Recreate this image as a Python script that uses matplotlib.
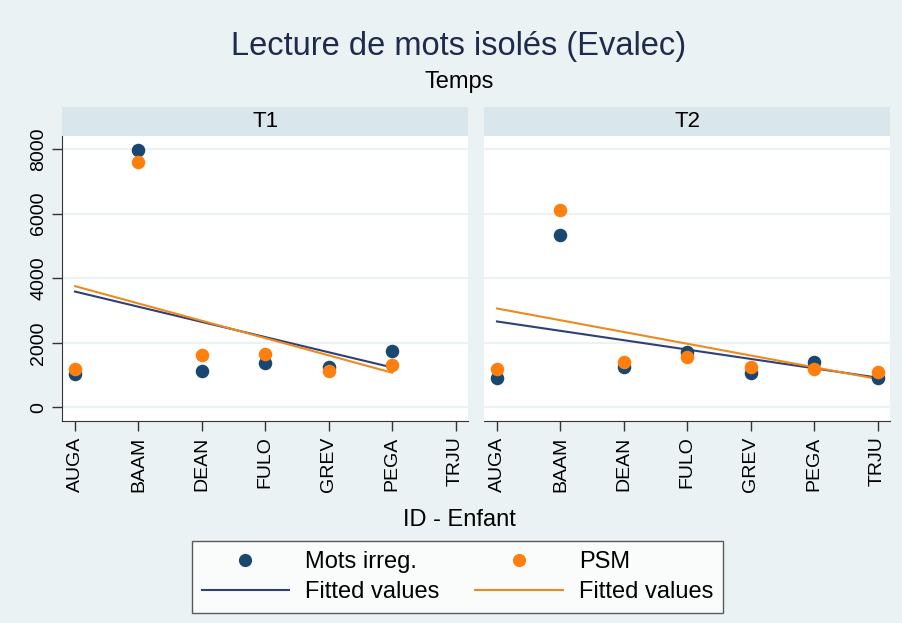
import numpy as np
import matplotlib
matplotlib.use("Agg")
import matplotlib.pyplot as plt
from matplotlib.lines import Line2D

plt.rcParams['font.family'] = ['Liberation Sans', 'DejaVu Sans']

# ---- data ----
ids = ["AUGA", "BAAM", "DEAN", "FULO", "GREV", "PEGA", "TRJU"]
panels = ["T1", "T2"]
mots_t1 = [1030, 7970, 1135, 1360, 1240, 1735, np.nan]
psm_t1 = [1175, 7605, 1620, 1650, 1135, 1300, np.nan]
mots_t2 = [915, 5335, 1240, 1700, 1050, 1395, 900]
psm_t2 = [1175, 6110, 1395, 1570, 1240, 1200, 1105]
yticks = [0, 2000, 4000, 6000, 8000]

BG = "#EAF2F3"
STRIP = "#D9E6EB"
C_MOTS = "#1a476f"
C_PSM = "#ff7f0e"
C_FIT_MOTS = "#2f3f78"
C_FIT_PSM = "#ee8a1d"

W, H = 903, 623
fig = plt.figure(figsize=(W / 100, H / 100), dpi=100, facecolor=BG)

def fx(px):
    return px / W

def fy(py):
    return 1 - py / H

ax_left = [62.3, 484.3]
ax_w = 406.0
ax_top, ax_bot = 136.0, 421.0
strip_top = 107.3

data = {"T1": (mots_t1, psm_t1), "T2": (mots_t2, psm_t2)}
x = np.arange(1, len(ids) + 1)

for i, p in enumerate(panels):
    l = ax_left[i]
    ax = fig.add_axes([fx(l), fy(ax_bot), ax_w / W, (ax_bot - ax_top) / H])
    ax.set_facecolor("white")
    mots, psm = data[p]
    mots = np.array(mots, dtype=float)
    psm = np.array(psm, dtype=float)
    for y, cm, cf in [(mots, C_MOTS, C_FIT_MOTS), (psm, C_PSM, C_FIT_PSM)]:
        m = ~np.isnan(y)
        coef = np.polyfit(x[m], y[m], 1)
        xx = x[m]
        ax.plot(xx, np.polyval(coef, xx), color=cf, lw=1.5, zorder=3)
    ax.scatter(x, mots, s=95, color=C_MOTS, zorder=4, linewidths=0)
    ax.scatter(x, psm, s=95, color=C_PSM, zorder=5, linewidths=0)
    ax.set_xlim(0.8, 7.2)
    ax.set_ylim(-420, 8400)
    ax.set_yticks(yticks)
    for yt in yticks:
        ax.axhline(yt, color=BG, lw=1.6, zorder=1)
    ax.set_xticks(x)
    ax.set_xticklabels(ids, rotation=90, fontsize=14)
    ax.tick_params(axis='x', length=7, width=1, pad=4, color="#333333")
    for s in ["top", "right"]:
        ax.spines[s].set_visible(False)
    ax.spines["bottom"].set_color("#333333")
    if i == 0:
        ax.set_yticklabels([str(v) for v in yticks], rotation=90, va="center", fontsize=14)
        ax.tick_params(axis='y', length=7, width=1, pad=4, color="#333333")
        ax.spines["left"].set_color("#333333")
    else:
        ax.spines["left"].set_visible(False)
        ax.tick_params(axis='y', length=0, labelleft=False)
    # strip
    sax = fig.add_axes([fx(l), fy(ax_top), ax_w / W, (ax_top - strip_top) / H])
    sax.set_facecolor(STRIP)
    sax.set_xticks([])
    sax.set_yticks([])
    for s in sax.spines.values():
        s.set_visible(False)
    sax.text(0.5, 0.5, p, ha="center", va="center", fontsize=16, transform=sax.transAxes)

cx = fx(459)
fig.text(cx, fy(46), "Lecture de mots isolés (Evalec)", ha="center", va="center",
         fontsize=23.5, color="#1e2b4d")
fig.text(cx, fy(82), "Temps", ha="center", va="center", fontsize=17, color="black")
fig.text(cx, fy(520), "ID - Enfant", ha="center", va="center", fontsize=17, color="black")

handles = [
    Line2D([], [], ls="none", marker="o", ms=9.5, color=C_MOTS, mec="none"),
    Line2D([], [], color=C_FIT_MOTS, lw=1.5),
    Line2D([], [], ls="none", marker="o", ms=9.5, color=C_PSM, mec="none"),
    Line2D([], [], color=C_FIT_PSM, lw=1.5),
]
labels = ["Mots irreg.", "Fitted values", "PSM", "Fitted values"]
leg = fig.legend(handles, labels, ncol=2, loc="center", bbox_to_anchor=(fx(457.5), fy(577)),
                 fontsize=17, frameon=True, fancybox=False, edgecolor="#333333",
                 handlelength=3.7, handletextpad=0.7, columnspacing=1.5,
                 labelspacing=0.35, borderpad=0.4)
leg.get_frame().set_linewidth(1.0)
leg.get_frame().set_facecolor("white")

fig.savefig("out.png", dpi=100, facecolor=BG)
